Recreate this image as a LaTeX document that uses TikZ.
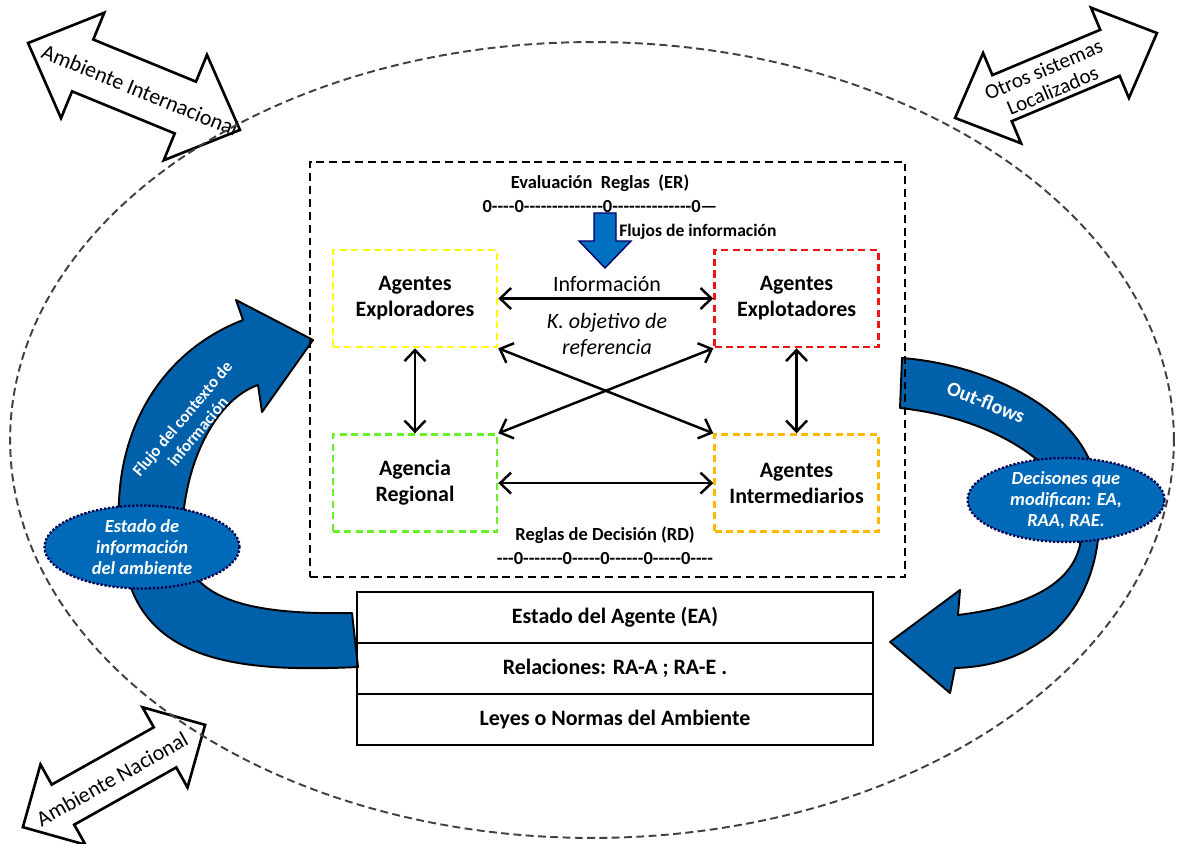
\documentclass[tikz,border=0pt]{standalone}
\usepackage{fontspec}
\setmainfont{Carlito}
\usetikzlibrary{arrows.meta,positioning,shapes.geometric}
\definecolor{flowblue}{RGB}{0,96,170}
\definecolor{ovalblue}{RGB}{0,106,184}
\definecolor{arrowblue}{RGB}{0,112,192}
\definecolor{explyellow}{RGB}{255,255,0}
\definecolor{explred}{RGB}{240,20,20}
\definecolor{reggreen}{RGB}{102,240,40}
\definecolor{intorange}{RGB}{255,185,0}
\definecolor{ringgrey}{RGB}{64,64,64}
\newcommand{\hyph}[1]{\foreach \i in {1,...,#1}{-\kern0pt}}

\begin{document}
\begin{tikzpicture}[x=0.02cm, y=-0.02cm, font=\fontsize{12}{14.5}\selectfont]
\tikzstyle{agent} = [rectangle, line width=1.5pt, dash pattern=on 4pt off 2.5pt, minimum width=3.28cm, minimum height=1.94cm, align=center, font=\fontsize{12.5}{14.8}\selectfont\bfseries]
\tikzstyle{biarrow} = [{Straight Barb[length=2.2mm,width=4.2mm]}-{Straight Barb[length=2.2mm,width=4.2mm]}, line width=1.4pt]
\tikzstyle{tablerow} = [rectangle, draw, line width=1.2pt, outer sep=0pt, minimum width=10.32cm, minimum height=1.02cm, font=\fontsize{12.5}{15}\selectfont\bfseries]
\tikzstyle{stateoval} = [ellipse, fill=ovalblue, draw=black!70!blue, line width=1.3pt, densely dotted, text=white, align=center, font=\fontsize{10.5}{12}\selectfont\bfseries\itshape, inner sep=0pt]
\tikzstyle{flowshape} = [fill=flowblue, draw=black, line width=1.1pt, line join=round]
\tikzstyle{envarrow} = [fill=white, draw=black, line width=1.5pt, line join=miter]
\tikzstyle{rulehead} = [font=\fontsize{10.5}{12}\selectfont\bfseries, inner sep=0pt]

\useasboundingbox (0,0) rectangle (1179,844);

% arrows to the surroundings
\begin{scope}[shift={(134,86.5)}, rotate=-22.3]
\path[envarrow] (-114.5,0) -- (-55.5,-57) -- (-55.5,-28) -- (55.5,-28) -- (55.5,-57) -- (114.5,0) -- (55.5,57) -- (55.5,28) -- (-55.5,28) -- (-55.5,57) -- cycle;
\end{scope}
\node[rotate=-22.3, font=\fontsize{12.5}{14}\selectfont] (intl) at (140,90) {Ambiente Internacional};

\begin{scope}[shift={(1056,75.5)}, rotate=22.8]
\path[envarrow] (-109.5,0) -- (-58.5,-49) -- (-58.5,-25) -- (58.5,-25) -- (58.5,-49) -- (109.5,0) -- (58.5,49) -- (58.5,25) -- (-58.5,25) -- (-58.5,49) -- cycle;
\end{scope}
\node[rotate=22.8, align=center, font=\fontsize{12}{13}\selectfont] (otros) at (1048,80) {Otros sistemas\\Localizados};

\begin{scope}[shift={(114,776)}, rotate=29.3]
\path[envarrow] (-104.5,0) -- (-58.5,-46) -- (-58.5,-23) -- (58.5,-23) -- (58.5,-46) -- (104.5,0) -- (58.5,46) -- (58.5,23) -- (-58.5,23) -- (-58.5,46) -- cycle;
\end{scope}
\node[rotate=29.3, font=\fontsize{12.5}{14}\selectfont] (nacional) at (112,779) {Ambiente Nacional};

% system boundary
\draw[ringgrey, line width=1.1pt, dash pattern=on 4.5pt off 2.5pt] (592,440) ellipse [x radius=11.64cm, y radius=7.96cm];

% curved flows
\path[flowshape] (358,667) .. controls (250,672) and (150,665) .. (127,575) .. controls (100,470) and (140,360) .. (243,320) -- (236,300) -- (313,340) -- (262,412) -- (258,385) .. controls (215,400) and (182,465) .. (182,540) .. controls (185,600) and (250,615) .. (352,613) -- cycle;
\node[rotate=50, text=white, align=center, font=\fontsize{9.5}{11.5}\selectfont\bfseries] (ctxflow) at (190,425) {Flujo del contexto de\\información};

\path[flowshape] (902,358) .. controls (990,365) and (1075,410) .. (1093,470) .. controls (1110,540) and (1090,600) .. (1050,635) .. controls (1020,658) and (990,667) .. (955,668) -- (950,693) -- (890,642) -- (960,590) -- (958,615) .. controls (1015,608) and (1070,590) .. (1080,545) .. controls (1085,480) and (1010,420) .. (900,408) -- cycle;
\node[rotate=-22, text=white, font=\fontsize{11.5}{13}\selectfont\bfseries] (outflow) at (986,402) {Out-flows};

\node[stateoval, minimum width=3.9cm, minimum height=1.66cm] (envstate) at (142,547) {Estado de\\información\\del ambiente};
\node[stateoval, minimum width=3.94cm, minimum height=1.68cm] (decis) at (1066,500) {Decisones que\\modifican: EA,\\RAA, RAE.};

% agents
\node[draw, line width=1.5pt, dash pattern=on 4.5pt off 2.8pt, minimum width=11.9cm, minimum height=8.3cm] (core) at (607.5,369.5) {};
\node[agent, draw=explyellow] (expl) at (415,298.5) {Agentes\\Exploradores};
\node[agent, draw=explred, right=4.3cm of expl] (explot) {Agentes\\Explotadores};
\node[agent, draw=reggreen, below=1.7cm of expl] (agreg) {Agencia\\Regional};
\node[agent, draw=intorange, below=1.7cm of explot] (inter) {Agentes\\Intermediarios};

\draw[biarrow] (expl) -- (explot);
\draw[biarrow] (agreg) -- (inter);
\draw[biarrow] (expl) -- (agreg);
\draw[biarrow] (explot) -- (inter);
\draw[biarrow] (expl.south east) -- (inter.north west);
\draw[biarrow] (agreg.north east) -- (explot.south west);

\node[font=\fontsize{12.5}{15}\selectfont] (infotxt) at (607,284) {Información};
\node[align=center, font=\fontsize{12.5}{14.8}\selectfont\itshape] (kobj) at (607,335) {K. objetivo de\\referencia};

\node[rulehead] (ertitle) at (600,183) {Evaluación\ \ Reglas\ \ (ER)};
\node[rulehead, below=5pt of ertitle] (erline) {0\hyph{4}0\hyph{14}0\hyph{14}0—};
\path[fill=arrowblue, draw=black!60!blue, line width=0.8pt] (594,213) -- (616,213) -- (616,241) -- (631,241) -- (605,268) -- (579,241) -- (594,241) -- cycle;
\node[rulehead, anchor=west, font=\fontsize{10}{12}\selectfont\bfseries] (flujos) at (619,232) {Flujos de información};

\node[rulehead] (rdtitle) at (605,535) {Reglas de Decisión (RD)};
\node[rulehead, below=5pt of rdtitle] (rdline) {\hyph{3}0\hyph{7}0\hyph{5}0\hyph{6}0\hyph{5}0\hyph{4}};

% state table
\node[tablerow] (estado) at (615,617.5) {Estado del Agente (EA)};
\node[tablerow, below=0pt of estado] (relac) {Relaciones: RA-A ; RA-E .};
\node[tablerow, below=0pt of relac] (leyes) {Leyes o Normas del Ambiente};
\end{tikzpicture}
\end{document}
